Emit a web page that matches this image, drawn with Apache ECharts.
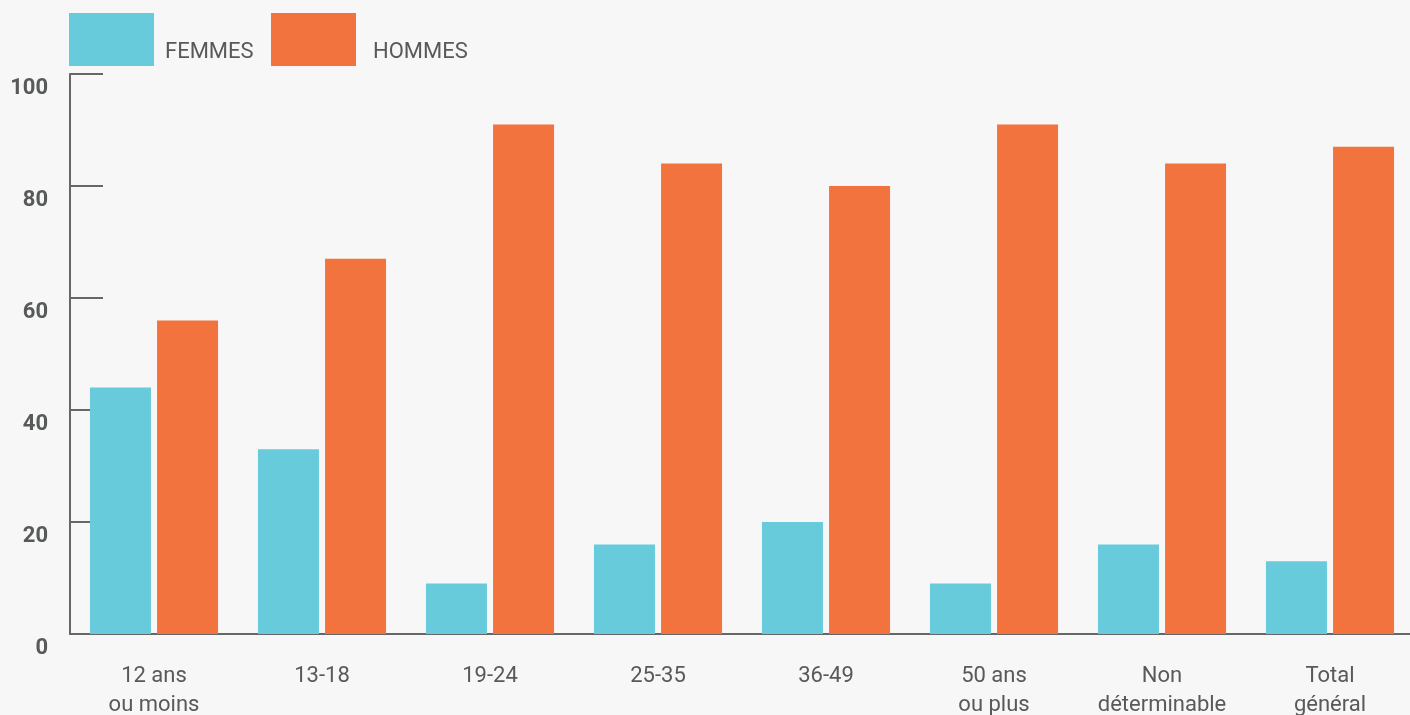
<!DOCTYPE html>
<html><head><meta charset="utf-8">
<script src="https://cdn.jsdelivr.net/npm/echarts@6/dist/echarts.min.js"></script>
<style>html,body{margin:0;padding:0;background:#f6f7f6;}#c{width:1410px;height:715px;}</style>
</head><body><div id="c"></div>
<script>
const categories = ["12 ans\nou moins","13-18","19-24","25-35","36-49","50 ans\nou plus","Non\ndéterminable","Total\ngénéral"];
const femmes = [44,33,9,16,20,9,16,13];
const hommes = [56,67,91,84,80,91,84,87];
const yTicks = [0,20,40,60,80,100];

const txt = '#58595b';
const chart = echarts.init(document.getElementById('c'));
chart.setOption({
  backgroundColor:'#f6f7f6',
  animation:false,
  legend:[
    {data:['FEMMES'],left:69,top:13,padding:0,icon:'rect',itemWidth:85,itemHeight:53,
     formatter:'{a|{name}}',
     textStyle:{rich:{a:{fontFamily:'Roboto',fontSize:22,color:txt,padding:[26,0,0,6]}}}},
    {data:['HOMMES'],left:271,top:13,padding:0,icon:'rect',itemWidth:85,itemHeight:53,
     formatter:'{a|{name}}',
     textStyle:{rich:{a:{fontFamily:'Roboto',fontSize:22,color:txt,padding:[26,0,0,12]}}}}
  ],
  grid:{left:70,top:74,width:1344,bottom:81,containLabel:false,outerBoundsMode:'none'},
  xAxis:{type:'category',data:categories,
    axisLine:{lineStyle:{color:'#666',width:2}},
    axisTick:{inside:true,length:13,lineStyle:{color:'#666',width:2}},
    axisLabel:{fontFamily:'Roboto',fontSize:22,color:txt,margin:28,lineHeight:29,interval:0}},
  yAxis:{type:'value',min:yTicks[0],max:yTicks[yTicks.length-1],interval:20,
    splitLine:{show:false},
    axisLine:{show:true,lineStyle:{color:'#666',width:2}},
    axisTick:{show:true,inside:true,length:33,lineStyle:{color:'#666',width:2}},
    axisLabel:{fontFamily:'Roboto',fontWeight:'bold',fontSize:22,color:txt,margin:22,verticalAlign:'top',lineHeight:29}},
  series:[
    {name:'FEMMES',type:'bar',data:femmes,barWidth:61,barGap:'10%',itemStyle:{color:'#67cbdb'}},
    {name:'HOMMES',type:'bar',data:hommes,barWidth:61,barGap:'10%',itemStyle:{color:'#f3733f'}}
  ]
});
</script></body></html>
